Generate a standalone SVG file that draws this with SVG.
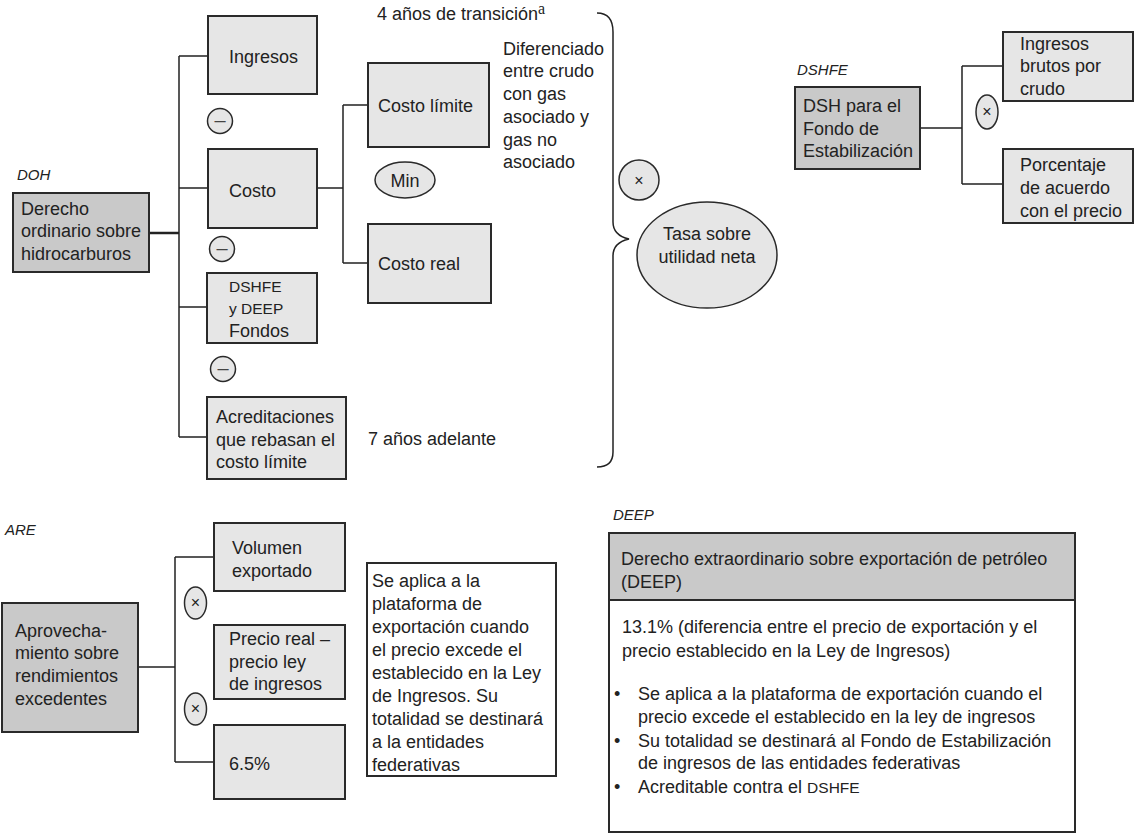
<svg xmlns="http://www.w3.org/2000/svg" width="1135" height="835" viewBox="0 0 1135 835">
<style>
text{font-family:"Liberation Sans",Arial,sans-serif;font-size:18px;fill:#222}
.lab{font-style:italic;font-size:15px}
.sm{font-size:15.5px}
.bx{fill:#e6e6e6;stroke:#2a2a2a;stroke-width:2}
.dk{fill:#c9c9c9;stroke:#2a2a2a;stroke-width:2}
.wh{fill:#fff;stroke:#2a2a2a;stroke-width:2}
.op{fill:#e6e6e6;stroke:#2a2a2a;stroke-width:1.5}
.sym{font-size:16px;text-anchor:middle}
.mn{font-size:20px;text-anchor:middle;fill:#444}
.c{text-anchor:middle}
#connectors path{fill:none;stroke:#222;stroke-width:1.5}
</style>
<rect width="1135" height="835" fill="#fff"/>
<g id="connectors">
<path d="M149,233 H179" style="stroke-width:2.5"/>
<path d="M179,56 V437 M179,56 H208 M179,188 H208 M179,307 H208 M179,437 H208"/>
<path d="M317,188 H343 M343,105 V263 M343,105 H368 M343,263 H368"/>
<path d="M597,13 C608,13 613,20 613,32 L613,222 C613,232 620,237 629,239 C620,241 613,246 613,256 L613,452 C613,462 608,467 597,467"/>
<path d="M920,128 H962 M962,66 V184 M962,66 H1003 M962,184 H1003"/>
<path d="M138,667 H175 M175,557 V762 M175,557 H214 M175,762 H214"/>
</g>
<g id="doh">
<text class="lab" x="17" y="180">DOH</text>
<rect class="dk" x="13" y="193" width="136" height="79"/>
<text x="21" y="215">Derecho</text>
<text x="21" y="237">ordinario sobre</text>
<text x="21" y="260">hidrocarburos</text>
</g>
<g id="ingresos">
<rect class="bx" x="208" y="16" width="109" height="78"/>
<text x="229" y="63">Ingresos</text>
</g>
<g id="minus1"><circle class="op" cx="220" cy="121" r="12.5"/><text class="mn" x="220" y="127">–</text></g>
<g id="costo">
<rect class="bx" x="208" y="149" width="109" height="79"/>
<text x="229" y="197">Costo</text>
</g>
<g id="minus2"><circle class="op" cx="222" cy="249" r="12.5"/><text class="mn" x="222" y="255">–</text></g>
<g id="fondos">
<rect class="bx" x="207" y="273" width="110" height="70"/>
<text class="sm" x="229" y="292">DSHFE</text>
<text class="sm" x="229" y="314">y DEEP</text>
<text x="229" y="337">Fondos</text>
</g>
<g id="minus3"><circle class="op" cx="223" cy="369" r="12.5"/><text class="mn" x="223" y="375">–</text></g>
<g id="acreditaciones">
<rect class="bx" x="207" y="397" width="139" height="82"/>
<text x="216" y="423">Acreditaciones</text>
<text x="216" y="446">que rebasan el</text>
<text x="216" y="468">costo límite</text>
</g>
<text x="368" y="445">7 años adelante</text>
<g id="costolimite">
<rect class="bx" x="368" y="63" width="121" height="84"/>
<text x="378" y="112">Costo límite</text>
</g>
<g id="min"><ellipse class="op" cx="405" cy="180" rx="30" ry="18"/><text class="c" x="405" y="187">Min</text></g>
<g id="costoreal">
<rect class="bx" x="368" y="224" width="123" height="79"/>
<text x="378" y="270">Costo real</text>
</g>
<text x="377" y="20">4 años de transición<tspan style="font-family:'Liberation Serif',serif;font-size:16px" dy="-6">a</tspan></text>
<g id="diferenciado">
<text x="503" y="55">Diferenciado</text>
<text x="503" y="77">entre crudo</text>
<text x="503" y="100">con gas</text>
<text x="503" y="123">asociado y</text>
<text x="503" y="146">gas no</text>
<text x="503" y="168">asociado</text>
</g>
<g id="times1"><circle class="op" cx="639" cy="180" r="20"/><text class="sym" x="639" y="186">×</text></g>
<g id="tasa">
<ellipse class="op" cx="707" cy="255" rx="70" ry="53"/>
<text class="c" x="707" y="240">Tasa sobre</text>
<text class="c" x="707" y="263">utilidad neta</text>
</g>
<g id="dshfe">
<text class="lab" x="797" y="75">DSHFE</text>
<rect class="dk" x="795" y="87" width="125" height="82"/>
<text x="803" y="112">DSH para el</text>
<text x="803" y="135">Fondo de</text>
<text x="803" y="157">Estabilización</text>
</g>
<g id="times2"><ellipse class="op" cx="987" cy="112" rx="11" ry="17"/><text class="sym" x="987" y="117">×</text></g>
<g id="ingresosbrutos">
<rect class="bx" x="1003" y="32" width="130" height="69"/>
<text x="1020" y="50">Ingresos</text>
<text x="1020" y="72">brutos por</text>
<text x="1020" y="95">crudo</text>
</g>
<g id="porcentaje">
<rect class="bx" x="1003" y="149" width="130" height="74"/>
<text x="1020" y="171">Porcentaje</text>
<text x="1020" y="194">de acuerdo</text>
<text x="1020" y="217">con el precio</text>
</g>
<g id="are">
<text class="lab" x="5" y="535">ARE</text>
<rect class="dk" x="2" y="603" width="136" height="129"/>
<text x="15" y="637">Aprovecha-</text>
<text x="15" y="659">miento sobre</text>
<text x="15" y="682">rendimientos</text>
<text x="15" y="705">excedentes</text>
</g>
<g id="volumen">
<rect class="bx" x="214" y="523" width="131" height="68"/>
<text x="232" y="554">Volumen</text>
<text x="232" y="577">exportado</text>
</g>
<g id="times3"><ellipse class="op" cx="195.5" cy="603" rx="11" ry="16"/><text class="sym" x="195.5" y="608">×</text></g>
<g id="precio">
<rect class="bx" x="214" y="625" width="131" height="74"/>
<text x="229" y="645">Precio real –</text>
<text x="229" y="668">precio ley</text>
<text x="229" y="690">de ingresos</text>
</g>
<g id="times4"><ellipse class="op" cx="195.5" cy="709" rx="11" ry="16"/><text class="sym" x="195.5" y="714">×</text></g>
<g id="pct65">
<rect class="bx" x="214" y="725" width="131" height="74"/>
<text x="229" y="770">6.5%</text>
</g>
<g id="arenote">
<rect class="wh" x="367" y="563" width="189" height="213"/>
<text x="372" y="587">Se aplica a la</text>
<text x="372" y="610">plataforma de</text>
<text x="372" y="633">exportación cuando</text>
<text x="372" y="656">el precio excede el</text>
<text x="372" y="679">establecido en la Ley</text>
<text x="372" y="702">de Ingresos. Su</text>
<text x="372" y="725">totalidad se destinará</text>
<text x="372" y="748">a la entidades</text>
<text x="372" y="771">federativas</text>
</g>
<g id="deep">
<text class="lab" x="613" y="520">DEEP</text>
<rect class="dk" x="609" y="533" width="466" height="67"/>
<text x="621" y="565">Derecho extraordinario sobre exportación de petróleo</text>
<text x="621" y="588">(DEEP)</text>
</g>
<g id="deepbody">
<rect class="wh" x="609" y="600" width="466" height="232"/>
<text x="622" y="633">13.1% (diferencia entre el precio de exportación y el</text>
<text x="622" y="657">precio establecido en la Ley de Ingresos)</text>
<text x="614" y="700">•</text><text x="638" y="700">Se aplica a la plataforma de exportación cuando el</text>
<text x="638" y="723">precio excede el establecido en la ley de ingresos</text>
<text x="614" y="747">•</text><text x="638" y="747">Su totalidad se destinará al Fondo de Estabilización</text>
<text x="638" y="769">de ingresos de las entidades federativas</text>
<text x="614" y="793">•</text><text x="638" y="793">Acreditable contra el <tspan class="sm">DSHFE</tspan></text>
</g>
</svg>
